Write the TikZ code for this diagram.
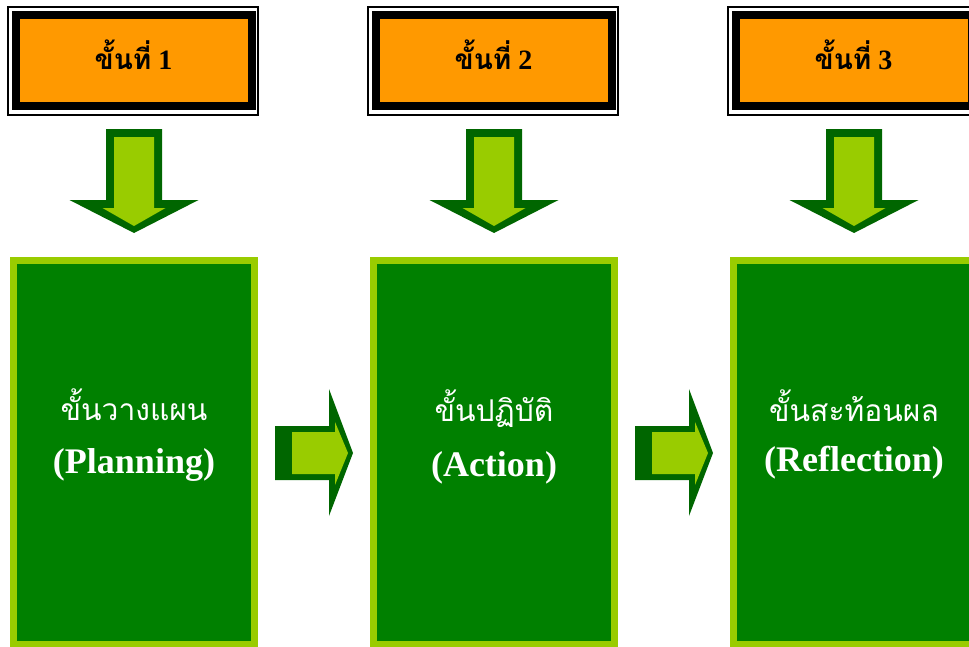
\documentclass[tikz,border=0pt]{standalone}
\usepackage{fontspec}
\setmainfont{Liberation Serif}
\newfontfamily\thaifont[Script=Thai]{Loma}
\definecolor{orng}{HTML}{FF9900}
\definecolor{gdark}{HTML}{008000}
\definecolor{glight}{HTML}{99CC00}
\definecolor{adark}{HTML}{006600}
\tikzset{
  stepbox/.style={draw=black, line width=6pt, fill=orng, minimum width=177pt, minimum height=68.6pt, inner sep=0pt, text=black},
  frameline/.style={draw=black, line width=0.9pt},
  gbox/.style={draw=glight, fill=gdark, line width=5.25pt, minimum width=180.75pt, minimum height=288pt, inner sep=0pt},
  thtxt/.style={text=white, font=\thaifont\fontsize{22.5}{26}\selectfont, inner sep=0pt},
  entxt/.style={text=white, font=\bfseries\fontsize{27}{30}\selectfont, inner sep=0pt},
  downarr/.pic={
    \fill[adark] (-28,0) -- (28,0) -- (28,71) -- (64.5,71) -- (0,104) -- (-64.5,71) -- (-28,71) -- cycle;
    \fill[glight] (-20,8) -- (20,8) -- (20,79) -- (31.5,79) -- (0,97) -- (-31.5,79) -- (-20,79) -- cycle;
  },
  rightarr/.pic={
    \fill[adark] (0,-27) -- (54,-27) -- (54,-64) -- (78,0) -- (54,63) -- (54,27) -- (0,27) -- cycle;
    \fill[glight] (17,-21) -- (60,-21) -- (60,-31) -- (73,0) -- (60,32) -- (60,21) -- (17,21) -- cycle;
  }
}
\begin{document}
\begin{tikzpicture}[x=0.75pt,y=-0.75pt]
\useasboundingbox (0,0) rectangle (969,646);
\clip (0,0) rectangle (969,646);
\foreach \i/\cx in {1/133.5, 2/493.5, 3/853.5} {
  \node[stepbox] (h\i) at (\cx,60.75) {};
  \node[inner sep=0pt, font=\bfseries\fontsize{21}{24}\selectfont] (l\i) at (\cx,55) {{\thaifont ขั้นที่} \i};
  \draw[frameline] ([shift={(-3.5,-4)}]h\i.north west) rectangle ([shift={(2.5,4.5)}]h\i.south east);
}
\foreach \i/\cx in {1/134, 2/494, 3/854} {
  \node[gbox] (g\i) at (\cx,452.5) {};
  \pic at (\cx,129) {downarr};
}
\node[thtxt] (t1) at (134,405) {ขั้นวางแผน};
\node[entxt] (e1) at (134,465) {(Planning)};
\node[thtxt] (t2) at (494,409) {ขั้นปฏิบัติ};
\node[entxt] (e2) at (494,468) {(Action)};
\node[thtxt] (t3) at (854,406) {ขั้นสะท้อนผล};
\node[entxt] (e3) at (854,463) {(Reflection)};
\pic at (275,453) {rightarr};
\pic at (635,453) {rightarr};
\end{tikzpicture}
\end{document}
